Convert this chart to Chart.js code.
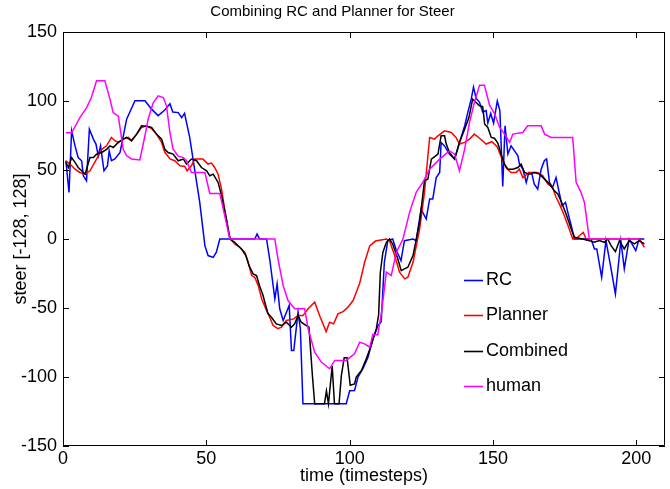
<!DOCTYPE html>
<html>
<head>
<meta charset="utf-8">
<title>Combining RC and Planner for Steer</title>
<script src="https://cdn.jsdelivr.net/npm/chart.js@4.4.1/dist/chart.umd.min.js"></script>
<style>
  html, body { margin: 0; padding: 0; background: #fff; }
  #wrap { width: 670px; height: 489px; }
</style>
</head>
<body>
<div id="wrap"><canvas id="steerChart" width="670" height="489"></canvas></div>
<script>
// Values (timestep, steer) - vertices of each trace
var rcT = [1, 2.1, 3, 4.2, 5.3, 6.5, 7.1, 8.2, 9.2, 10.6, 11.5, 12.3, 13.1, 14.3, 15.5, 16.1, 16.9, 18.1, 19.9, 22.2,
  25.1, 28.6, 30.9, 33.2, 35.5, 37.3, 38.3, 40.2, 41.4, 42.4, 44.2, 45.9, 47.7, 49.5, 50.6, 52.4, 53.5, 54.7, 66.9, 67.7,
  68.6, 71, 72.1, 73.9, 74.7, 75.6, 76.8, 78.9, 79.7, 80.5, 82, 82.8, 83.7, 98.8, 100, 101.7, 102.9, 104.6, 106.4, 108.1,
  109.9, 111, 112.1, 113.3, 115, 116.3, 117.9, 119.1, 122.1, 123.2, 124.9, 126.7, 127.9, 129, 130.2, 131.4, 131.9, 133.1,
  134.8, 136.6, 138.3, 140.1, 141.2, 142.4, 143.2, 144.1, 145.3, 146.4, 147.6, 148.2, 149.2, 150.2, 151.5, 152.4, 153.4,
  154.2, 155.2, 156.3, 157.5, 158.7, 159.2, 160.4, 161.6, 162.5, 163.6, 164.4, 165.6, 166.8, 167.9, 168.7, 169.7, 170.8,
  172, 173.2, 174.1, 175.3, 176.1, 177.3, 178.4, 184.2, 185.4, 186.2, 187.9, 189.4, 191.1, 192.7, 194.6, 195.8, 197.5,
  199.8, 201, 202.8];
var rcV = [56.7, 33.8, 78.4, 67.5, 59, 56.7, 45.8, 42.2, 79.6, 72.4, 68.8, 60.3, 67.5, 49.4, 53, 63.9, 56.7, 58, 62.7, 86.8,
  100.2, 100.2, 94.1, 89.4, 93.5, 98, 92, 91.6, 88, 91, 73.6, 50.6, 26.5, -4.8, -12, -13.3, -9.6, 0, 0, 3.6,
  0, 0, -14.5, -43.4, -32.6, -50.6, -59, -48.2, -80.8, -80.8, -53, -65, -119.4, -119.4, -110, -109.8, -100, -94, -85.6, -72.4,
  -62.7, -60, -16.9, -1.2, 0, -8.4, -15.7, -1.2, 0, -1.2, 21.7, 14.5, 29, 29, 44.6, 48.2, 69.9, 67.5,
  61.5, 57.9, 69.9, 81.9, 91.6, 101.3, 110, 102, 99, 92, 93, 84, 91, 84, 100, 93, 38,
  82, 61.5, 67.5, 63.9, 60.3, 54.3, 50.6, 41, 48.2, 47, 39.8, 36.2, 50.6, 56.7, 58, 41, 37.4,
  44.6, 32.6, 24.1, 26.5, 19.3, 9.6, 0, 0, -7.2, -7.2, -27.7, -1.2, -20.5, -39.8, -1.2, -21.7, 0,
  -8.4, 0, 0];

var plannerT = [1, 2.4, 4.2, 5.9, 7.7, 9.4, 11.7, 13.5, 15.2, 16.9, 18.1, 19.3, 21, 22.8, 23.9, 25.7, 27.4, 29.2, 30.9, 32.6,
  34.4, 35.5, 37.3, 39, 40.8, 42.5, 43.3, 44.8, 45.9, 48.8, 50.6, 51.8, 52.9, 54.1, 55.3, 56.4, 57.6, 58.4, 59.9, 61.7,
  63.4, 64.6, 65.8, 66.9, 68.1, 69.4, 71, 72.1, 73.3, 75, 76.2, 77.9, 80.5, 81.9, 83.7, 85.5, 87.8, 89.5, 91.8, 93,
  94.4, 95.9, 97.7, 99.4, 101.2, 102.3, 103.5, 105.2, 107, 109, 112.8, 113.9, 115.7, 117.4, 119.2, 120.3, 122.1, 124.4, 126.1, 127.9,
  129.6, 130.8, 133.1, 135.4, 137.1, 138.3, 140.1, 141.8, 143.5, 145.3, 147.6, 149.6, 151.4, 153, 154.6, 156.3, 158.1, 159.2, 160.4, 162.7,
  165.6, 167.4, 169.1, 170.8, 172, 173.2, 174.9, 176.6, 177.8, 178.9, 180.1, 181.5, 182.6, 184, 201.1, 202.8];
var plannerV = [56.7, 54.3, 50.6, 48.2, 47, 49.4, 57.9, 65, 67.5, 73.6, 71.2, 70, 72.4, 73.6, 71.2, 76, 80.8, 82, 80, 76,
  70, 63, 58, 56.7, 53, 52.6, 49.4, 53, 57.9, 57.9, 54.3, 55, 51.8, 47, 36.2, 21.7, 7.2, 0, -3.6, -6,
  -9.6, -16.9, -26.5, -27.7, -33.8, -44, -51.8, -56.7, -62.7, -65, -63.9, -59, -57.9, -55.5, -55.5, -50.6, -45.8, -55.5, -67.1, -60.3,
  -61.5, -54.3, -52.6, -49.4, -44.6, -38.6, -32, -17, -5, -1.5, 0, -1.2, -12, -24.1, -28.9, -27.7, -16.9, 7.2, 33.8, 73.6,
  72.4, 74.8, 78.4, 77.2, 73.6, 68.8, 70, 72.4, 76, 73, 68.8, 70.5, 67, 59, 51.5, 48.2, 48.2, 50.6, 44.6, 48.2,
  48.2, 45.8, 39.8, 37.4, 30.2, 25.3, 16.9, 7.2, 0, 0, 2.4, 4.8, -0.5, 0, 0, -6];

var combinedT = [1, 1.9, 3, 4.2, 5.3, 6.5, 7.7, 9.4, 10.6, 11.7, 13.5, 15.2, 16.4, 17.5, 19.3, 21, 22.2, 23.9, 25.7, 27.4,
  29.4, 30.9, 32.6, 34.4, 35.5, 36.7, 38.4, 40.2, 42, 43.1, 44.8, 46.6, 48.3, 50.1, 51.2, 52.4, 54.1, 55.3, 57, 58.2,
  59.9, 62.2, 63.8, 64.9, 66.3, 67.5, 68.6, 69.8, 70.4, 71.5, 72.7, 74.4, 76.2, 77.9, 79.7, 80.8, 82, 83.1, 84.9, 85.8,
  87, 87.8, 91.2, 91.9, 92.6, 93.9, 94.7, 96.3, 97.1, 98.1, 99.1, 100.2, 101.7, 102.3, 104.1, 105.8, 107.5, 109.3, 110.1, 110.7,
  111.6, 112.8, 113.9, 115, 116.8, 118, 119.1, 120.3, 122.1, 124.4, 126.1, 127.3, 128.5, 130, 130.8, 131.9, 133.1, 133.7, 134.8, 136.6,
  138.3, 140.1, 141.6, 142.9, 144.1, 145.3, 146.4, 147.1, 148.2, 149.4, 150.5, 151.7, 152.9, 154, 155.2, 156.9, 158.7, 159.8, 161, 162.7,
  164.4, 166.2, 168, 169.7, 171.4, 172.6, 173.7, 175.5, 177.3, 178.4, 181.3, 183.6, 185.3, 187.1, 188.8, 190, 191.2, 192.7, 194.1, 195.8,
  197.5, 199.3, 201, 202.8];
var combinedV = [55.5, 51.8, 59, 55.5, 51.8, 49.4, 47, 59, 59, 61.5, 62.7, 65, 67.5, 66.3, 70, 72.4, 73.6, 71.2, 76, 82,
  81.6, 80.8, 76, 72.4, 65, 62.7, 61.5, 56.7, 57.9, 54.3, 57.9, 56.7, 51.8, 49.4, 45.8, 47, 41, 31.4, 14.5, 0,
  -2.4, -7.2, -12, -19.3, -25.3, -26.5, -34, -41, -45.8, -54, -56.7, -61.5, -62.7, -60.3, -63.9, -61.5, -55.5, -60.3, -62.7, -63.9,
  -98.9, -119.4, -119.4, -110, -119.4, -92, -119.4, -119.4, -99, -86, -86, -106, -105, -100, -95.3, -86.8, -77.2, -65, -55, -24.1,
  -9.6, -2.4, 0, -3.6, -14.5, -22.9, -21.7, -20.5, -12, 12, 42.2, 43.4, 57.9, 60.3, 61.5, 74.8, 74.8, 68.8, 62.7, 57.9,
  69.9, 79.6, 88, 101.3, 98.9, 96.5, 96, 83.2, 80.8, 73.6, 73, 69.5, 61, 54.3, 50.6, 50.6, 51.8, 54.3, 48.2, 47,
  48.2, 47, 43.4, 39.8, 34.9, 32.6, 27.7, 18.1, 7.2, 1.2, 0, -1.2, -2.4, -1.2, -2.4, 0, -4.8, -9.2, -1.2, -7.2,
  -1.2, -3.6, -1.2, -3.6];

var humanT = [1, 3, 5.9, 8.2, 9.9, 11.7, 14.6, 16.4, 17.5, 19.3, 21, 22.2, 23.9, 26.8, 28.6, 29.7, 31.5, 33.2, 35, 36.1,
  37.3, 38.4, 40.2, 42, 43.1, 44.8, 49.5, 51.2, 54.7, 58.2, 73.9, 75, 76.8, 78.5, 80.8, 84.3, 85.5, 87.8, 90.1, 93,
  94.8, 98.8, 101.7, 103.5, 105.2, 107, 108.1, 109.8, 111.1, 112.8, 114.5, 116.3, 118.6, 120.9, 123.2, 125.5, 127.9, 131.4, 134.8, 136.6,
  138.3, 140.1, 141.8, 143.5, 145.3, 147, 148.8, 150.5, 152.3, 154, 155.8, 156.9, 160.4, 162.1, 166.8, 168, 170.3, 177.8, 179, 180.7,
  181.9, 183.6, 201];
var humanV = [77, 77, 88, 95, 102.5, 114.6, 114.6, 101.2, 91.6, 89, 65, 60.3, 58, 57.3, 75, 86.8, 98.9, 103.7, 102.5, 96.5,
  77, 65, 60, 59, 56.7, 48.2, 48.2, 33, 33, 0, 0, -14.5, -33.8, -44.6, -50.6, -50.6, -65, -82, -89.2, -94,
  -88, -88, -83.2, -74.8, -76, -78.4, -69, -69.5, -53.1, -24, -26.5, -9.6, 0, 19.3, 33.8, 41, 50.6, 57.9, 63.9, 61.5,
  49.4, 65, 84.4, 98.9, 111.5, 111.5, 97, 91, 81, 76, 70, 76, 77.2, 82, 82, 76, 73.6, 73.6, 41, 33.8,
  26.5, 0, 0];

var seriesNames = ["RC", "Planner", "Combined", "human"];
var seriesColors = ["#0000ff", "#ff0000", "#000000", "#ff00ff"];
var xTickValues = [0, 50, 100, 150, 200];
var yTickValues = [-150, -100, -50, 0, 50, 100, 150];

var FONT = "'Liberation Sans', Arial, Helvetica, sans-serif";
var TICK_LEN = 6;

function toPoints(t, v) {
  return t.map(function (x, i) {
    return { x: x, y: v[i] };
  });
}

// MATLAB style box, inward ticks on all four sides, and the in-axes legend
var matlabBox = {
  id: "matlabBox",
  afterDatasetsDraw: function (chart) {
    var ctx = chart.ctx;
    var a = chart.chartArea;
    var xs = chart.scales.x;
    var ys = chart.scales.y;
    ctx.save();
    ctx.strokeStyle = "#000";
    ctx.lineWidth = 1;
    ctx.beginPath();
    ctx.rect(a.left + 0.5, a.top + 0.5, a.right - a.left - 1, a.bottom - a.top - 1);
    xTickValues.forEach(function (v) {
      var px = Math.round(xs.getPixelForValue(v)) + 0.5;
      ctx.moveTo(px, a.bottom);
      ctx.lineTo(px, a.bottom - TICK_LEN);
      ctx.moveTo(px, a.top);
      ctx.lineTo(px, a.top + TICK_LEN);
    });
    yTickValues.forEach(function (v) {
      var py = Math.round(ys.getPixelForValue(v)) + 0.5;
      ctx.moveTo(a.left, py);
      ctx.lineTo(a.left + TICK_LEN, py);
      ctx.moveTo(a.right, py);
      ctx.lineTo(a.right - TICK_LEN, py);
    });
    ctx.stroke();

    // legend (no frame, like the reference)
    var lx = 464, ly = 280, step = 35.3;
    ctx.font = "18px " + FONT;
    ctx.textBaseline = "middle";
    ctx.textAlign = "left";
    chart.data.datasets.forEach(function (ds, i) {
      var y = Math.round(ly + i * step) + 0.5;
      ctx.strokeStyle = ds.borderColor;
      ctx.lineWidth = 1.6;
      ctx.beginPath();
      ctx.moveTo(lx, y);
      ctx.lineTo(lx + 19, y);
      ctx.stroke();
      ctx.fillStyle = "#000";
      ctx.fillText(ds.label, lx + 22, y);
    });
    ctx.restore();
  },
};

var dataSets = [
  { t: rcT, v: rcV },
  { t: plannerT, v: plannerV },
  { t: combinedT, v: combinedV },
  { t: humanT, v: humanV },
].map(function (s, i) {
  return {
    label: seriesNames[i],
    data: toPoints(s.t, s.v),
    borderColor: seriesColors[i],
    backgroundColor: seriesColors[i],
    borderWidth: 1.5,
    pointRadius: 0,
    tension: 0,
    fill: false,
    order: 3 - i,
  };
});

Chart.defaults.color = "#000";
Chart.defaults.font.family = FONT;

new Chart(document.getElementById("steerChart").getContext("2d"), {
  type: "line",
  data: { datasets: dataSets },
  options: {
    responsive: false,
    animation: false,
    devicePixelRatio: 1,
    layout: { padding: { left: 0, right: 5, top: 0, bottom: 0 } },
    plugins: {
      legend: { display: false },
      tooltip: { enabled: false },
      title: {
        display: true,
        text: "Combining RC and Planner for Steer",
        color: "#000",
        font: { size: 15, weight: "normal", family: FONT },
        padding: { top: 3, bottom: 11 },
      },
    },
    scales: {
      x: {
        type: "linear",
        min: 0,
        max: 210,
        afterFit: function (scale) { scale.height = 43; },
        afterBuildTicks: function (scale) {
          scale.ticks = xTickValues.map(function (v) { return { value: v }; });
        },
        grid: { display: false, drawTicks: false },
        border: { display: false },
        ticks: { font: { size: 18 }, color: "#000", padding: 2, maxRotation: 0 },
        title: {
          display: true,
          text: "time (timesteps)",
          color: "#000",
          font: { size: 18 },
          padding: { top: 0, bottom: 2 },
        },
      },
      y: {
        type: "linear",
        min: -150,
        max: 150,
        afterFit: function (scale) { scale.width = 63; },
        afterBuildTicks: function (scale) {
          scale.ticks = yTickValues.map(function (v) { return { value: v }; });
        },
        grid: { display: false, drawTicks: false },
        border: { display: false },
        ticks: { font: { size: 18 }, color: "#000", padding: 6 },
        title: {
          display: true,
          text: "steer [-128, 128]",
          color: "#000",
          font: { size: 18 },
          padding: { top: 10, bottom: 0 },
        },
      },
    },
  },
  plugins: [matlabBox],
});
</script>
</body>
</html>
